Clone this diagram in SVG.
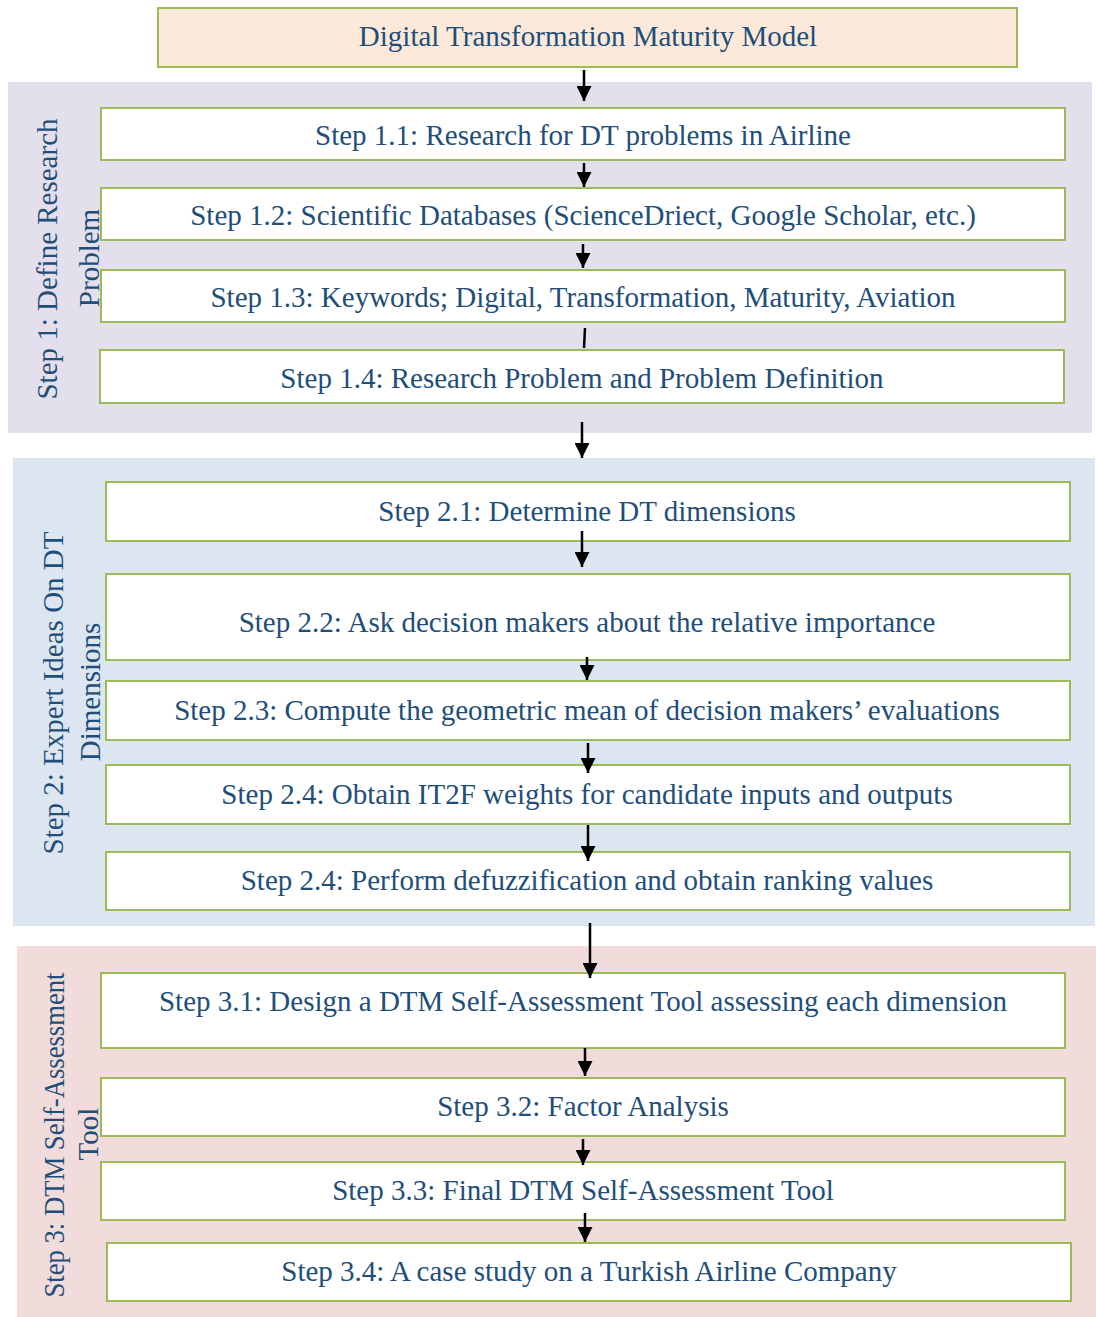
<svg xmlns="http://www.w3.org/2000/svg" width="1096" height="1317" viewBox="0 0 1096 1317">
<defs>
<style>
.box{fill:#FFFFFF;stroke:#9BBB59;stroke-width:2}
.t{font-family:"Liberation Serif","Times New Roman",serif;font-size:29px;fill:#1F4E79;text-anchor:middle}
.c{stroke:#000;stroke-width:2.5;fill:none}
</style>
<marker id="ah" viewBox="0 0 10 10" refX="10" refY="5" markerWidth="6" markerHeight="6" markerUnits="strokeWidth" orient="auto">
<path d="M0,0 L10,5 L0,10 Z" fill="#000"/>
</marker>
</defs>
<rect width="1096" height="1317" fill="#FFFFFF"/>
<g id="panel1"><rect x="8" y="82" width="1084" height="351" fill="#E4DFEC"/></g>
<g id="panel2"><rect x="13" y="458" width="1082" height="468" fill="#DCE6F1"/></g>
<g id="panel3"><rect x="17" y="946" width="1079" height="371" fill="#F2DCDB"/></g>

<g id="label1"><text class="t" transform="translate(57,259) rotate(-90)">Step 1: Define Research</text><text class="t" transform="translate(99,258) rotate(-90)">Problem</text></g>
<g id="label2"><text class="t" transform="translate(63,693) rotate(-90)">Step 2: Expert Ideas On DT</text><text class="t" transform="translate(100,692) rotate(-90)">Dimensions</text></g>
<g id="label3"><text class="t" transform="translate(64,1135) rotate(-90)" textLength="325" lengthAdjust="spacingAndGlyphs">Step 3: DTM Self-Assessment</text><text class="t" transform="translate(98,1134) rotate(-90)">Tool</text></g>

<g id="title"><rect x="158" y="8" width="859" height="59" fill="#FCE9DA" stroke="#9BBB59" stroke-width="2"/><text class="t" x="588" y="46">Digital Transformation Maturity Model</text></g>

<g id="s11"><rect class="box" x="101" y="108" width="964" height="52"/><text class="t" x="583" y="145">Step 1.1: Research for DT problems in Airline</text></g>
<g id="s12"><rect class="box" x="101" y="188" width="964" height="52"/><text class="t" x="583" y="225">Step 1.2: Scientific Databases (ScienceDriect, Google Scholar, etc.)</text></g>
<g id="s13"><rect class="box" x="101" y="270" width="964" height="52"/><text class="t" x="583" y="307">Step 1.3: Keywords; Digital, Transformation, Maturity, Aviation</text></g>
<g id="s14"><rect class="box" x="100" y="350" width="964" height="53"/><text class="t" x="582" y="388">Step 1.4: Research Problem and Problem Definition</text></g>

<g id="s21"><rect class="box" x="106" y="482" width="964" height="59"/><text class="t" x="587" y="521">Step 2.1: Determine DT dimensions</text></g>
<g id="s22"><rect class="box" x="106" y="574" width="964" height="86"/><text class="t" x="587" y="632">Step 2.2: Ask decision makers about the relative importance</text></g>
<g id="s23"><rect class="box" x="106" y="681" width="964" height="59"/><text class="t" x="587" y="720">Step 2.3: Compute the geometric mean of decision makers’ evaluations</text></g>
<g id="s24"><rect class="box" x="106" y="765" width="964" height="59"/><text class="t" x="587" y="804">Step 2.4: Obtain IT2F weights for candidate inputs and outputs</text></g>
<g id="s25"><rect class="box" x="106" y="852" width="964" height="58"/><text class="t" x="587" y="890">Step 2.4: Perform defuzzification and obtain ranking values</text></g>

<g id="s31"><rect class="box" x="101" y="973" width="964" height="75"/><text class="t" x="583" y="1011">Step 3.1: Design a DTM Self-Assessment Tool assessing each dimension</text></g>
<g id="s32"><rect class="box" x="101" y="1078" width="964" height="58"/><text class="t" x="583" y="1116">Step 3.2: Factor Analysis</text></g>
<g id="s33"><rect class="box" x="101" y="1162" width="964" height="58"/><text class="t" x="583" y="1200">Step 3.3: Final DTM Self-Assessment Tool</text></g>
<g id="s34"><rect class="box" x="107" y="1243" width="964" height="58"/><text class="t" x="589" y="1281">Step 3.4: A case study on a Turkish Airline Company</text></g>

<g id="connectors">
<line class="c" x1="584" y1="70" x2="584" y2="101" marker-end="url(#ah)"/>
<line class="c" x1="584" y1="163" x2="584" y2="187" marker-end="url(#ah)"/>
<line class="c" x1="583" y1="244" x2="583" y2="268" marker-end="url(#ah)"/>
<line class="c" x1="585" y1="328" x2="584" y2="348"/>
<line class="c" x1="582" y1="422" x2="582" y2="458" marker-end="url(#ah)"/>
<line class="c" x1="582" y1="531" x2="582" y2="567" marker-end="url(#ah)"/>
<line class="c" x1="587" y1="657" x2="587" y2="680" marker-end="url(#ah)"/>
<line class="c" x1="588" y1="743" x2="588" y2="773" marker-end="url(#ah)"/>
<line class="c" x1="588" y1="825" x2="588" y2="861" marker-end="url(#ah)"/>
<line class="c" x1="590" y1="923" x2="590" y2="978" marker-end="url(#ah)"/>
<line class="c" x1="585" y1="1048" x2="585" y2="1076" marker-end="url(#ah)"/>
<line class="c" x1="583" y1="1139" x2="583" y2="1165" marker-end="url(#ah)"/>
<line class="c" x1="585" y1="1213" x2="585" y2="1242" marker-end="url(#ah)"/>
</g>
</svg>
